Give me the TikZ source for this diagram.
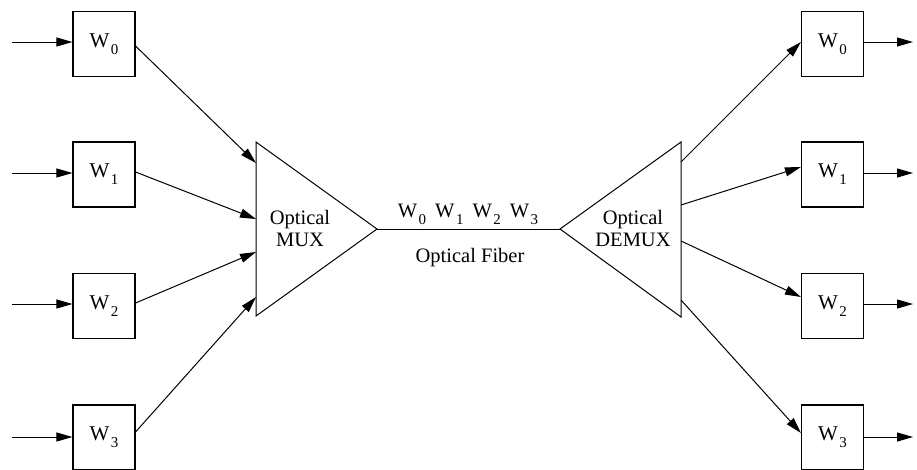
\documentclass[tikz,border=0pt]{standalone}
\usepackage{fontspec}
\setmainfont{Liberation Serif}
\usetikzlibrary{arrows.meta,calc}
\newcommand{\Wn}[1]{W\kern1.5pt\raisebox{-7pt}{\fontsize{15}{15}\selectfont #1}}
\begin{document}
\begin{tikzpicture}[x=1pt,y=-1pt,line width=1pt,
  wbox/.style={draw,line width=1.1pt,minimum width=62pt,minimum height=65pt,inner sep=0pt,font=\fontsize{21}{24}\selectfont},
  arr/.style={-{Triangle[length=16pt,width=9pt]}},
  lbl/.style={font=\fontsize{20.5}{22}\selectfont,align=center,inner sep=0pt}]
\useasboundingbox (0,0) rectangle (917,469);
% boxes
\node[wbox] (l0) at (104,44) {\Wn{0}};
\node[wbox] (l1) at (104,174.5) {\Wn{1}};
\node[wbox] (l2) at (104,306) {\Wn{2}};
\node[wbox] (l3) at (104,437.5) {\Wn{3}};
\node[wbox] (r0) at (832.5,44) {\Wn{0}};
\node[wbox] (r1) at (832.5,174.5) {\Wn{1}};
\node[wbox] (r2) at (832.5,306) {\Wn{2}};
\node[wbox] (r3) at (832.5,437.5) {\Wn{3}};
% input / output ends
\coordinate (i0) at (12,42);
\coordinate (i1) at (12,173);
\coordinate (i2) at (12,304);
\coordinate (i3) at (12,437);
\coordinate (o0) at (913,42);
\coordinate (o1) at (913,173);
\coordinate (o2) at (913,304);
\coordinate (o3) at (913,437);
\foreach \k in {0,1,2,3}{
  \draw[arr] (i\k) -- (i\k -| l\k.west);
  \draw[arr] (o\k -| r\k.east) -- (o\k);
}
% triangles
\coordinate (mt) at (256,142);
\coordinate (mb) at (256,316);
\coordinate (ma) at (377,229);
\coordinate (dt) at (681,142);
\coordinate (db) at (681,317);
\coordinate (da) at (560,229);
\draw (mt) -- (ma) -- (mb) -- cycle;
\draw (dt) -- (da) -- (db) -- cycle;
\draw (ma) -- (da);
\node[lbl] (mux) at (300,228) {Optical\\MUX};
\node[lbl] (demux) at (633,228) {Optical\\DEMUX};
\node[lbl,anchor=base] (waves) at (468,217) {\Wn{0}\hspace{9pt}\Wn{1}\hspace{9pt}\Wn{2}\hspace{9pt}\Wn{3}};
\node[lbl] (fiber) at (470,258) {Optical Fiber};
% mux inputs
\coordinate (m0) at (256,163);
\coordinate (m1) at (256,219);
\coordinate (m2) at (256,252);
\coordinate (m3) at (256,297);
\draw[arr] ([yshift=-2pt]l0.east) -- (m0);
\draw[arr] ([yshift=2.5pt]l1.east) -- (m1);
\draw[arr] ([yshift=3pt]l2.east) -- (m2);
\draw[arr] ([yshift=5.5pt]l3.east) -- (m3);
% demux outputs
\coordinate (d0) at (681,162);
\coordinate (d1) at (681,205);
\coordinate (d2) at (681,241);
\coordinate (d3) at (681,300);
\draw[arr] (d0) -- ([yshift=2pt]r0.west);
\draw[arr] (d1) -- ([yshift=7.5pt]r1.west);
\draw[arr] (d2) -- ([yshift=9pt]r2.west);
\draw[arr] (d3) -- ([yshift=4.5pt]r3.west);
\end{tikzpicture}
\end{document}
